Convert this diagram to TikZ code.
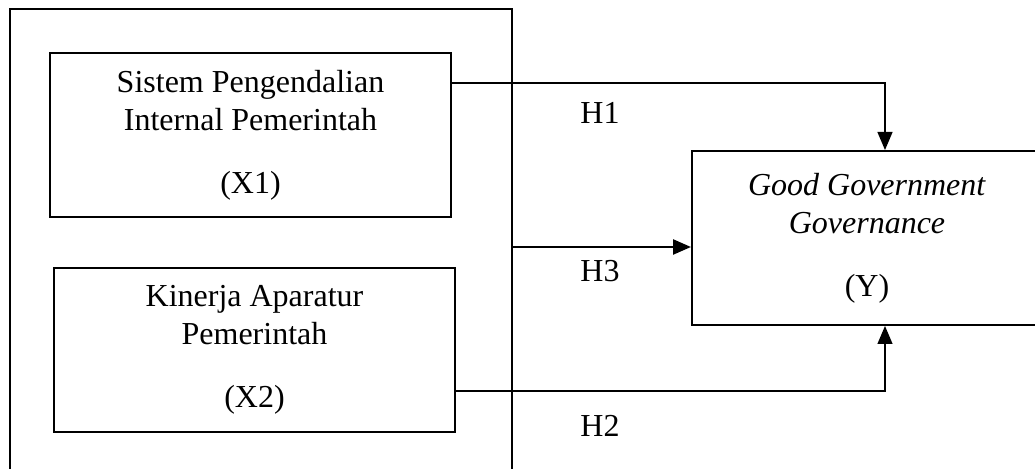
\documentclass[tikz,border=0pt]{standalone}
\usepackage{fontspec}
\setmainfont{Liberation Serif}
\usetikzlibrary{arrows.meta, positioning, shapes}

\begin{document}
\begin{tikzpicture}[x=0.5pt, y=-0.5pt,
	every node/.style={font=\fontsize{16pt}{19pt}\selectfont},
	varbox/.style={draw, line width=1pt, inner sep=0pt, align=center},
	hyp/.style={-{Triangle[length=9pt, width=7.5pt]}, line width=0.6pt}]

\useasboundingbox (0,0) rectangle (1035,469);

\def \gap{12.5pt}
% \def \gap{10pt}

% frame round both independent variables (open at the bottom)
\draw[line width=0.9pt] (10,480) -- (10,9) -- (512,9) -- (512,480);
\coordinate (h3 start) at (512,247); % joint arrow leaves the frame

% variable boxes
\node[varbox, minimum width=200.5pt, minimum height=82pt] (x1) at (250.5,135) {Sistem Pengendalian\\Internal Pemerintah\\[\gap](X1)};
\node[varbox, minimum width=200.5pt, minimum height=82pt] (x2) at (254.5,350) {Kinerja Aparatur\\Pemerintah\\[\gap](X2)};
\node[varbox, minimum width=175pt, minimum height=87pt] (y) at (867,238) {\textit{Good Government}\\\textit{Governance}\\[\gap](Y)};

% hypotheses
\coordinate (h1 bend) at (885,83);
\coordinate (h2 bend) at (885,391);

\draw[hyp] (x1.east |- h1 bend) -- (h1 bend) -- (y.north -| h1 bend); % H1
\draw[hyp] (x2.east |- h2 bend) -- (h2 bend) -- (y.south -| h2 bend); % H2
\draw[hyp, line width=1.2pt] (h3 start) -- (y.west |- h3 start); % H3

\node[anchor=west, inner sep=0pt] (h1) at (580,113) {H1};
\node[anchor=west, inner sep=0pt] (h3) at (580,271) {H3};
\node[anchor=west, inner sep=0pt] (h2) at (580,426) {H2};

\end{tikzpicture}
\end{document}
